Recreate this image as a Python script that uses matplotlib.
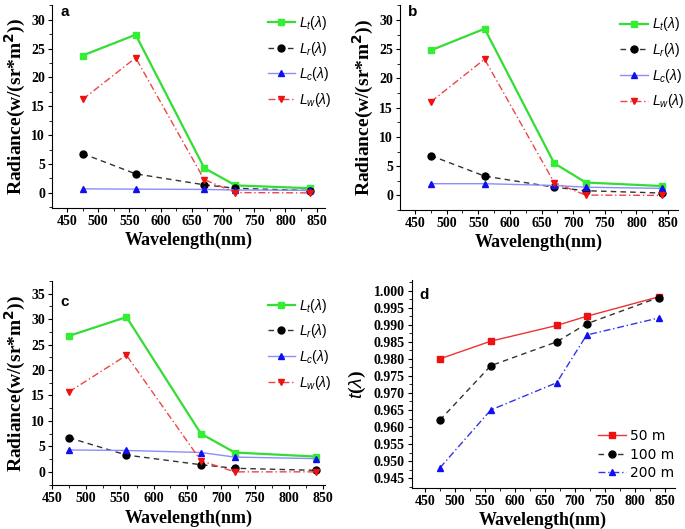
import numpy as np
import matplotlib.pyplot as plt

wl = [475, 560, 670, 720, 840]

# panel a
a_Lt = [23.8, 27.4, 4.3, 1.3, 0.8]
a_Lr = [6.8, 3.3, 1.4, 0.8, 0.4]
a_Lc = [0.7, 0.65, 0.6, 0.5, 0.45]
a_Lw = [16.2, 23.4, 2.3, 0.05, 0.0]

# panel b
b_Lt = [24.8, 28.5, 5.5, 2.2, 1.6]
b_Lr = [6.8, 3.3, 1.4, 0.8, 0.4]
b_Lc = [2.0, 2.0, 1.7, 1.4, 1.2]
b_Lw = [16.0, 23.3, 2.2, 0.05, 0.0]

# panel c
c_Lt = [26.7, 30.4, 7.5, 3.8, 3.0]
c_Lr = [6.7, 3.3, 1.4, 0.7, 0.3]
c_Lc = [4.3, 4.2, 3.8, 2.9, 2.6]
c_Lw = [15.7, 22.9, 2.2, 0.0, 0.0]

# panel d: transmittance
d_labels = ["50 m", "100 m", "200 m"]
d_50 = [0.980, 0.9852, 0.9898, 0.9925, 0.9982]
d_100 = [0.962, 0.978, 0.985, 0.9903, 0.998]
d_200 = [0.948, 0.965, 0.973, 0.987, 0.992]

rad_labels = [r"$L_t(\lambda)$", r"$L_r(\lambda)$", r"$L_c(\lambda)$", r"$L_w(\lambda)$"]

serif = "Liberation Serif"
sans = "Liberation Sans"
plt.rcParams["mathtext.fontset"] = "custom"
plt.rcParams["mathtext.it"] = "Liberation Sans:italic"
plt.rcParams["mathtext.rm"] = "Liberation Sans"

fig = plt.figure(figsize=(6.85, 5.29), dpi=100)


def style_axes(ax, xlim, ylim, yticks, yfmt="{:g}"):
    ax.set_xlim(*xlim)
    ax.set_ylim(*ylim)
    ax.spines["top"].set_visible(False)
    ax.spines["right"].set_visible(False)
    ax.set_xticks(range(450, 851, 50))
    ax.set_xticks(range(475, 851, 50), minor=True)
    ax.set_yticks(yticks)
    step = yticks[1] - yticks[0]
    ax.set_yticks(np.arange(yticks[0] - step / 2, yticks[-1] + step, step), minor=True)
    ax.set_yticklabels([yfmt.format(v) for v in yticks])
    ax.set_xticklabels([str(v) for v in range(450, 851, 50)])
    ax.tick_params(direction="out", length=3, width=0.8, labelsize=10, pad=2)
    ax.tick_params(which="minor", direction="out", length=2, width=0.6)
    for lab in ax.get_xticklabels() + ax.get_yticklabels():
        lab.set_fontfamily(serif)
        lab.set_fontweight("bold")
    ax.set_xlabel("Wavelength(nm)", fontfamily=serif, fontweight="bold", fontsize=13, labelpad=3)


def radiance_panel(rect, Lt, Lr, Lc, Lw, xlim, ylim, yticks, letter, letter_xy, leg_anchor):
    ax = fig.add_axes(rect)
    ax.plot(wl, Lt, color="#33dd33", lw=1.6, marker="s", ms=5, mfc="#33ee33", mec="#33ee33", label=rad_labels[0])
    ax.plot(wl, Lr, color="#333333", lw=1.0, ls=(0, (4, 3)), marker="o", ms=5, mfc="black", mec="black", label=rad_labels[1])
    ax.plot(wl, Lc, color="#8c8cff", lw=1.0, marker="^", ms=5, mfc="#1010ee", mec="#1010ee", label=rad_labels[2])
    ax.plot(wl, Lw, color="#ee4444", lw=1.0, ls=(0, (5, 2, 1, 2)), marker="v", ms=5, mfc="#ee1111", mec="#ee1111", label=rad_labels[3])
    style_axes(ax, xlim, ylim, yticks)
    ax.set_ylabel(r"Radiance(w/(sr*m$^\mathbf{2}$))", fontfamily=serif, fontweight="bold", fontsize=14, labelpad=3)
    ax.text(*letter_xy, letter, transform=ax.transAxes, fontfamily=sans, fontweight="bold", fontsize=11, va="top")
    ax.legend(loc="upper left", bbox_to_anchor=leg_anchor, frameon=False, fontsize=10,
              handlelength=2.0, handletextpad=0.3, labelspacing=0.55, borderaxespad=0)
    return ax


radiance_panel([0.076, 0.607, 0.398, 0.383], a_Lt, a_Lr, a_Lc, a_Lw,
               (426, 863), (-2.6, 30.3), list(range(0, 31, 5)), "a", (0.03, 1.0), (0.77, 0.985))
radiance_panel([0.584, 0.603, 0.406, 0.388], b_Lt, b_Lr, b_Lc, b_Lw,
               (426.3, 866), (-2.4, 32.6), list(range(0, 31, 5)), "b", (0.03, 1.0), (0.77, 0.975))
radiance_panel([0.076, 0.083, 0.398, 0.386], c_Lt, c_Lr, c_Lc, c_Lw,
               (450, 853), (-2.6, 35), list(range(0, 36, 5)), "c", (0.03, 0.93), (0.77, 0.95))

# panel d
ax = fig.add_axes([0.601, 0.0775, 0.384, 0.3935])
ax.plot(wl, d_50, color="#ee3333", lw=1.0, marker="s", ms=4.5, mfc="#ee1111", mec="#ee1111", label=d_labels[0])
ax.plot(wl, d_100, color="#333333", lw=1.0, ls=(0, (4, 3)), marker="o", ms=5, mfc="black", mec="black", label=d_labels[1])
ax.plot(wl, d_200, color="#3333ee", lw=1.0, ls=(0, (5, 2, 1, 2)), marker="^", ms=5, mfc="#1010ee", mec="#1010ee", label=d_labels[2])
style_axes(ax, (428, 867), (0.9421, 1.0032), list(np.round(np.arange(0.945, 1.0001, 0.005), 3)), "{:.3f}")
ax.set_ylabel(r"$\it{t}$($\lambda$)", fontfamily=serif, fontweight="bold", fontsize=14, labelpad=4)
ax.text(0.03, 0.96, "d", transform=ax.transAxes, fontfamily=sans, fontweight="bold", fontsize=11, va="top")
ax.legend(loc="lower right", bbox_to_anchor=(1.03, 0.0), frameon=False, fontsize=10,
          handlelength=2.0, handletextpad=0.3, labelspacing=0.3, borderaxespad=0.2)

fig.savefig("out.png", dpi=100)
